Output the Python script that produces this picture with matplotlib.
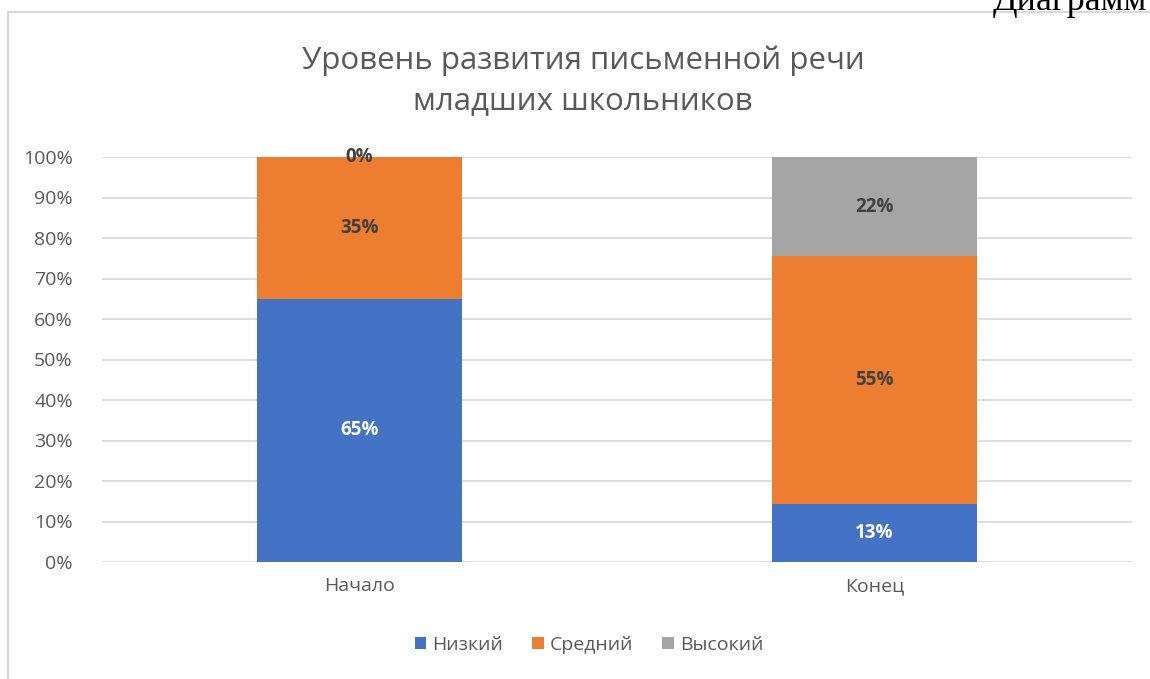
import matplotlib
matplotlib.use("Agg")
import matplotlib.pyplot as plt
import numpy as np
from matplotlib.patches import Rectangle

plt.rcParams["font.family"] = ["Open Sans", "DejaVu Sans"]

categories = ["Начало", "Конец"]
series = ["Низкий", "Средний", "Высокий"]
low = [65, 13]
mid = [35, 55]
high = [0, 22]
colors = ["#4472C4", "#ED7D31", "#A5A5A5"]
label_colors = ["white", "#404040", "#404040"]

title = "Уровень развития письменной речи\nмладших школьников"
TXT = "#595959"

fig = plt.figure(figsize=(11.5, 6.79), dpi=100)
ax = fig.add_axes([102 / 1150, 1 - 562 / 679, 1030 / 1150, 405 / 679])

# chart frame (cut off on the right and bottom in the reference)
fig.patches.append(Rectangle((8 / 1150, -0.05), 1.2, 1 - 12 / 679 + 0.05,
                             transform=fig.transFigure, fill=False,
                             edgecolor="#D9D9D9", lw=1.5))
fig.text(993 / 1150, 1 - 10 / 679, "Диаграмм", family="Liberation Serif",
         fontsize=26, color="black", va="baseline", ha="left")

vals = np.array([low, mid, high], dtype=float)
share = vals / vals.sum(axis=0) * 100   # 100% stacked
x = np.arange(len(categories))
bottom = np.zeros(len(categories))
for i, name in enumerate(series):
    ax.bar(x, share[i], width=0.398, bottom=bottom, color=colors[i],
           label=name, zorder=3)
    for j in range(len(categories)):
        ax.text(x[j], bottom[j] + share[i][j] / 2, f"{vals[i][j]:.0f}%",
                ha="center", va="center", fontsize=13.5, fontweight="bold",
                color=label_colors[i], zorder=4)
    bottom += share[i]

ax.set_xlim(-0.5, 1.5)
ax.set_ylim(0, 100)
ax.set_yticks(np.arange(0, 101, 10))
ax.set_yticklabels([f"{v}%" for v in range(0, 101, 10)])
ax.set_xticks(x)
ax.set_xticklabels(categories)
ax.tick_params(axis="both", length=0, colors=TXT, labelsize=14)
ax.tick_params(axis="y", pad=21)
ax.tick_params(axis="x", pad=11)
ax.grid(axis="y", color="#D9D9D9", lw=1.2, zorder=0)
for s in ax.spines.values():
    s.set_visible(False)

fig.text(583 / 1150, 1 - 81 / 679, title, ha="center", va="center",
         fontsize=22.5, color=TXT, linespacing=1.45)

ax.legend(loc="center", bbox_to_anchor=(589 / 1150, 1 - 645 / 679),
          bbox_transform=fig.transFigure, ncol=3, frameon=False,
          fontsize=14, labelcolor=TXT, handlelength=0.6, handleheight=0.6,
          handletextpad=0.3, columnspacing=1.5)

fig.savefig("out.png", dpi=100)
